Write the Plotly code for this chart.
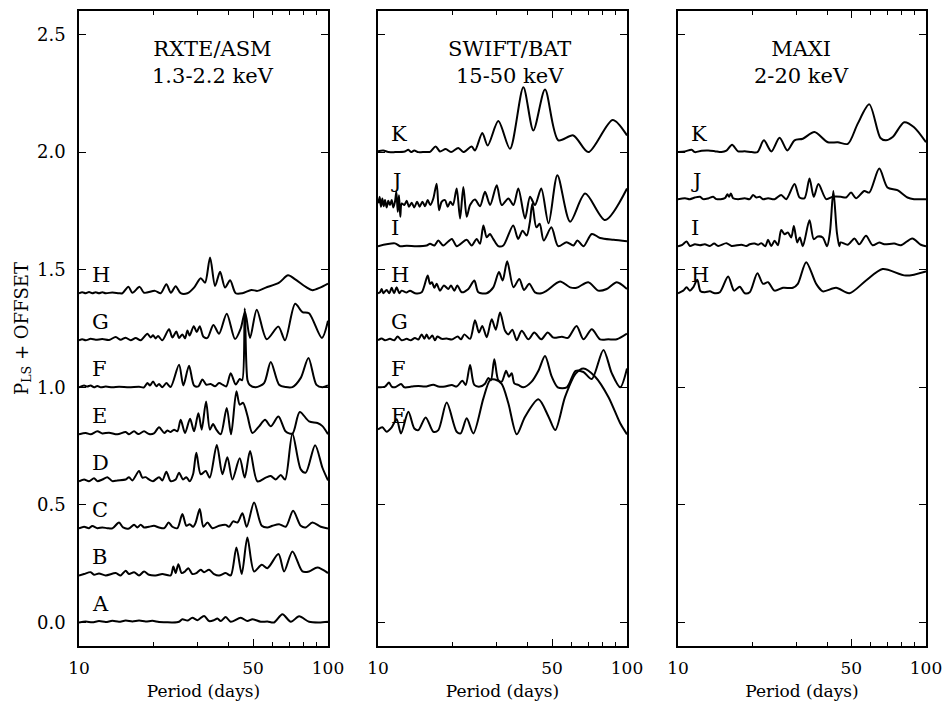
import plotly.graph_objects as go

# ---------------- data: (period [days], Lomb-Scargle power) ----------------
# RXTE/ASM 1.3-2.2 keV
ASM_A = [(10.0,0.0),(10.64,0.004),(11.31,0.001),(12.03,0.006),(12.8,0.002),(13.61,0.007),(14.48,0.003),(15.4,0.008),(16.38,0.004),(17.42,0.008),(18.53,0.004),(19.71,0.007),(20.96,0.002),(22.29,0.001),(23.71,0.0),(25.22,0.003),(26.01,0.014),(27.25,0.008),(28.53,0.02),(29.88,0.01),(31.8,0.028),(33.3,0.006),(34.86,0.01),(35.97,0.017),(37.09,0.006),(38.84,0.023),(40.67,0.003),(44.62,0.02),(47.45,0.006),(49.71,0.014),(53.7,0.003),(57.1,0.004),(60.74,0.0),(65.6,0.035),(70.9,0.003),(76.55,0.026),(83.97,0.003),(92.11,0.0),(100.0,0.003)]
ASM_B = [(10.0,0.0),(10.48,0.006),(11.14,0.014),(11.49,0.003),(12.03,0.008),(12.8,0.0),(14.04,0.01),(14.7,0.0),(15.4,0.02),(15.88,0.006),(16.64,0.014),(17.42,0.0),(18.25,0.017),(19.11,0.003),(20.33,0.0),(21.61,0.006),(23.34,0.0),(23.93,0.038),(24.45,0.01),(25.06,0.048),(25.85,0.01),(26.66,0.017),(27.5,0.031),(28.53,0.006),(29.6,0.01),(30.82,0.024),(31.79,0.014),(33.29,0.024),(34.86,0.006),(36.52,0.0),(38.84,0.01),(40.67,0.0),(42.88,0.119),(45.04,0.006),(47.45,0.161),(50.48,0.017),(54.19,0.045),(57.1,0.031),(63.23,0.091),(66.64,0.017),(71.97,0.102),(78.95,0.017),(83.97,0.017),(90.69,0.034),(100.0,0.01)]
ASM_C = [(10.0,0.0),(10.48,0.007),(10.97,0.001),(11.31,0.01),(11.85,0.001),(12.41,0.004),(13.0,0.001),(13.61,0.0),(14.48,0.025),(15.03,0.004),(15.88,0.0),(16.64,0.016),(17.15,0.004),(17.69,0.016),(18.25,0.004),(19.11,0.007),(20.0,0.011),(20.96,0.004),(22.0,0.001),(22.91,0.025),(23.71,0.007),(24.84,0.001),(26.01,0.061),(27.0,0.011),(27.83,0.018),(28.71,0.007),(29.42,0.025),(30.54,0.082),(31.6,0.007),(32.8,0.025),(34.33,0.001),(36.52,0.011),(38.84,0.015),(40.05,0.007),(41.57,0.03),(43.27,0.025),(45.32,0.064),(47.16,0.007),(50.48,0.110),(54.19,0.011),(57.1,0.004),(59.81,0.011),(63.62,0.018),(67.66,0.007),(72.42,0.075),(77.74,0.011),(81.42,0.004),(86.6,0.025),(93.54,0.007),(100.0,0.0)]
ASM_D = [(10.0,0.0),(10.48,0.008),(10.97,0.001),(11.49,0.013),(11.85,0.001),(12.41,0.008),(13.0,0.018),(13.61,0.001),(14.26,0.004),(15.4,0.008),(15.88,0.018),(16.38,0.004),(17.42,0.044),(17.97,0.016),(18.53,0.018),(19.11,0.008),(19.83,0.001),(20.96,0.018),(21.61,0.004),(22.43,0.041),(23.34,0.001),(24.45,0.008),(25.22,0.037),(26.17,0.008),(26.99,0.018),(27.83,0.0),(28.71,0.030),(29.6,0.122),(30.82,0.030),(32.28,0.044),(33.5,0.016),(35.76,0.155),(37.66,0.030),(39.44,0.103),(41.31,0.008),(44.2,0.098),(46.3,0.016),(48.64,0.129),(52.06,0.0),(56.23,0.016),(58.9,0.023),(61.68,0.008),(64.6,0.027),(67.24,0.008),(71.97,0.203),(77.74,0.051),(81.42,0.037),(88.77,0.154),(95.0,0.058),(100.0,0.004)]
ASM_E = [(10.0,0.0),(10.64,0.006),(11.14,0.0),(11.85,0.013),(12.41,0.004),(13.2,0.007),(14.26,0.0),(15.4,0.01),(15.88,0.0),(16.64,0.013),(17.31,0.001),(18.25,0.013),(19.11,0.001),(20.0,0.004),(20.96,0.030),(22.0,0.006),(22.63,0.016),(23.34,0.01),(24.08,0.02),(24.84,0.013),(25.61,0.062),(26.66,0.006),(27.93,0.066),(28.97,0.013),(30.16,0.09),(31.1,0.02),(32.38,0.14),(33.55,0.02),(34.54,0.044),(35.6,0.02),(37.09,0.0),(39.2,0.112),(40.8,0.0),(42.88,0.183),(44.2,0.126),(45.6,0.134),(47.45,0.08),(49.71,0.006),(52.87,0.034),(55.88,0.062),(58.9,0.034),(63.23,0.076),(67.66,0.012),(71.97,0.003),(77.0,0.095),(83.97,0.055),(90.7,0.048),(95.0,0.035),(100.0,0.0)]
ASM_F = [(10.0,0.0),(10.48,0.008),(10.8,0.003),(11.14,0.008),(11.49,0.0),(11.85,0.006),(12.22,0.0),(12.8,0.003),(13.61,0.0),(14.48,0.002),(15.88,0.0),(17.42,0.002),(18.25,0.0),(18.82,0.018),(19.29,0.008),(19.83,0.025),(20.45,0.004),(20.96,0.014),(21.61,0.0),(22.43,0.018),(23.34,0.001),(25.22,0.096),(26.25,0.008),(27.66,0.092),(28.97,0.008),(30.16,0.004),(31.3,0.033),(32.48,0.011),(33.8,0.014),(35.2,0.004),(36.52,0.018),(37.88,0.01),(39.04,0.004),(40.67,0.060),(42.6,0.012),(44.2,0.035),(45.2,0.03),(46.3,0.335),(47.5,0.03),(48.5,0.01),(51.27,0.0),(55.38,0.018),(58.9,0.108),(63.62,0.011),(67.66,0.001),(71.97,0.001),(77.74,0.04),(83.46,0.125),(89.9,0.01),(95.0,0.0),(100.0,0.008)]
ASM_G = [(10.0,0.0),(10.31,0.004),(10.64,0.0),(11.14,0.006),(11.67,0.002),(12.41,0.005),(13.2,0.001),(14.04,0.014),(14.7,0.002),(15.4,0.011),(16.13,0.0),(16.9,0.010),(17.69,0.0),(18.82,0.028),(19.4,0.012),(19.83,0.021),(20.3,0.008),(20.77,0.018),(21.61,0.0),(22.99,0.047),(23.71,0.012),(24.6,0.037),(25.22,0.010),(26.01,0.025),(26.66,0.008),(27.25,0.042),(27.8,0.02),(28.9,0.06),(29.7,0.035),(30.54,0.06),(31.6,0.015),(32.8,0.01),(34.65,0.065),(36.52,0.028),(39.2,0.113),(42.34,0.005),(44.62,0.05),(46.44,0.12),(48.64,0.01),(51.75,0.13),(56.75,0.004),(63.2,0.058),(67.2,0.0),(73.8,0.155),(78.9,0.12),(83.9,0.115),(94.5,0.01),(100.0,0.083)]
ASM_H = [(10.0,0.0),(10.31,0.004),(10.64,0.0),(10.97,0.005),(11.31,0.0),(11.67,0.004),(12.03,0.0),(12.41,0.004),(12.8,0.0),(13.61,0.003),(14.48,0.0),(14.93,0.0),(15.79,0.028),(16.38,0.002),(17.53,0.027),(18.25,0.002),(20.2,0.010),(21.29,0.0),(22.43,0.038),(23.4,0.002),(24.45,0.030),(25.61,0.0),(27.25,0.0),(28.97,0.024),(30.82,0.064),(32.08,0.045),(33.6,0.152),(35.2,0.031),(36.86,0.091),(38.6,0.024),(40.44,0.055),(42.6,0.0),(45.3,0.0),(49.25,0.014),(52.06,0.010),(56.23,0.024),(63.62,0.045),(69.1,0.076),(73.6,0.06),(81.42,0.027),(86.6,0.013),(92.9,0.024),(100.0,0.041)]

# SWIFT/BAT 15-50 keV
BAT_E = [(10.0,0.021),(10.41,0.03),(10.83,0.011),(11.35,0.03),(11.88,0.064),(12.37,0.004),(13.24,0.096),(13.99,0.025),(14.52,0.018),(15.54,0.072),(16.68,0.011),(17.47,0.018),(18.87,0.135),(20.7,0.011),(21.48,0.004),(22.71,0.068),(24.15,0.004),(26.5,0.153),(28.2,0.231),(29.5,0.233),(31.38,0.215),(33.38,0.132),(36.06,0.0),(38.96,0.075),(44.07,0.149),(48.4,0.075),(51.5,0.018),(56.4,0.159),(62.2,0.258),(66.85,0.28),(74.5,0.245),(84.2,0.159),(93.9,0.047),(100.0,0.0)]
BAT_F = [(10.0,0.0),(10.67,0.003),(11.07,0.02),(11.35,0.003),(11.7,0.0),(12.37,0.014),(12.76,0.0),(13.65,0.003),(14.52,0.006),(15.45,0.003),(16.68,0.011),(17.47,0.003),(18.59,0.003),(19.79,0.01),(20.7,0.003),(21.82,0.028),(22.5,0.01),(23.43,0.095),(24.37,0.01),(25.68,0.003),(26.9,0.015),(27.74,0.04),(28.4,0.03),(29.32,0.119),(30.42,0.03),(31.38,0.024),(32.7,0.07),(33.55,0.045),(34.44,0.06),(35.27,0.017),(36.6,0.01),(38.35,0.0),(41.43,0.024),(44.07,0.07),(46.86,0.133),(49.86,0.045),(52.7,0.0),(57.3,0.0),(62.2,0.07),(66.85,0.065),(72.2,0.035),(80.4,0.159),(86.85,0.06),(93.9,0.0),(100.0,0.08)]
BAT_G = [(10.0,0.0),(10.35,0.007),(10.67,0.0),(11.17,0.006),(11.63,0.0),(11.99,0.016),(12.45,0.0),(13.04,0.006),(13.53,0.0),(14.07,0.01),(14.52,0.003),(14.98,0.025),(15.35,0.006),(15.68,0.024),(16.03,0.006),(16.52,0.02),(16.94,0.0),(17.31,0.016),(18.02,0.006),(18.87,0.007),(19.79,0.003),(20.9,0.016),(21.55,0.004),(22.22,0.025),(23.43,0.006),(24.52,0.085),(25.44,0.033),(26.24,0.061),(27.33,0.013),(28.62,0.089),(29.7,0.045),(30.92,0.118),(32.38,0.04),(33.38,0.025),(34.65,0.045),(36.06,0.0),(37.77,0.04),(40.2,0.004),(42.42,0.033),(45.25,0.004),(48.03,0.033),(50.66,0.011),(54.8,0.015),(57.9,0.01),(62.74,0.061),(66.85,0.004),(72.2,0.047),(77.96,0.004),(84.2,0.004),(91.0,0.004),(100.0,0.028)]
BAT_H = [(10.0,0.0),(10.19,0.004),(10.35,0.018),(10.5,0.0),(10.83,0.014),(11.1,0.0),(11.35,0.023),(11.6,0.0),(11.88,0.025),(12.18,0.0),(12.45,0.011),(13.04,0.003),(13.44,0.011),(14.07,0.0),(14.98,0.004),(15.83,0.075),(16.18,0.04),(16.47,0.047),(16.84,0.023),(17.2,0.04),(17.74,0.011),(18.39,0.033),(19.16,0.018),(19.64,0.033),(20.26,0.011),(20.83,0.033),(21.68,0.004),(23.07,0.018),(24.37,0.054),(25.29,0.004),(27.33,0.0),(29.05,0.025),(30.6,0.09),(31.67,0.054),(33.03,0.136),(35.0,0.025),(36.93,0.061),(38.58,0.014),(40.51,0.04),(42.7,0.004),(45.34,0.0),(47.62,0.011),(53.83,0.05),(59.06,0.025),(62.74,0.023),(69.9,0.047),(76.7,0.011),(82.9,0.018),(91.0,0.047),(100.0,0.018)]
BAT_I = [(10.0,0.0),(11.7,0.012),(12.26,0.0),(13.04,0.002),(14.3,0.0),(15.68,0.003),(16.18,0.01),(16.84,0.003),(17.47,0.024),(18.29,0.003),(19.79,0.031),(20.7,0.0),(22.71,0.027),(23.79,0.003),(24.9,0.031),(25.68,0.01),(26.5,0.088),(27.33,0.038),(28.15,0.052),(29.05,0.03),(30.42,0.0),(31.87,0.003),(34.9,0.088),(36.55,0.031),(38.07,0.066),(39.53,0.045),(40.7,0.1),(41.66,0.18),(43.24,0.08),(44.6,0.095),(46.3,0.024),(49.7,0.08),(52.9,0.0),(57.2,0.017),(60.9,0.003),(63.2,0.024),(66.9,0.0),(72.2,0.052),(78.0,0.035),(88.3,0.027),(100.0,0.021)]
BAT_J = [(10.03,-0.018),(10.15,0.01),(10.28,-0.032),(10.41,0.003),(10.54,-0.03),(10.67,-0.004),(10.83,-0.035),(11.0,-0.007),(11.17,-0.025),(11.35,-0.004),(11.52,-0.035),(11.7,-0.011),(11.85,0.031),(12.0,-0.054),(12.14,0.017),(12.29,-0.075),(12.45,-0.018),(12.76,-0.025),(13.04,-0.007),(13.32,-0.032),(13.65,-0.015),(13.99,-0.035),(14.35,-0.011),(14.7,-0.032),(15.08,-0.011),(15.45,-0.03),(15.83,-0.004),(16.23,-0.025),(16.68,0.003),(17.2,0.066),(17.58,-0.047),(18.02,-0.011),(18.59,-0.004),(19.05,-0.032),(19.53,-0.011),(20.0,-0.025),(20.7,0.045),(21.36,-0.082),(22.02,0.052),(22.72,-0.075),(23.43,-0.025),(24.52,-0.001),(25.7,-0.03),(26.9,0.031),(28.2,-0.025),(29.98,0.059),(31.38,-0.025),(33.38,0.003),(35.0,-0.025),(36.6,0.045),(38.96,-0.082),(40.8,0.01),(42.7,-0.025),(45.25,0.045),(48.4,-0.103),(52.55,0.102),(59.1,-0.096),(67.9,0.024),(81.7,-0.089),(100.0,0.045)]
BAT_K = [(10.0,0.004),(10.5,0.007),(11.0,0.0),(11.7,0.0),(12.83,0.003),(13.24,0.01),(13.57,0.0),(13.99,0.007),(14.52,0.0),(15.44,0.001),(16.18,0.001),(17.04,0.024),(17.74,0.003),(18.7,0.013),(19.65,0.0),(21.02,0.018),(22.01,0.0),(23.78,0.024),(24.52,0.007),(26.24,0.081),(27.57,0.028),(30.42,0.132),(33.89,0.014),(38.35,0.276),(42.06,0.092),(46.86,0.266),(53.0,0.05),(60.88,0.071),(69.94,0.0),(87.58,0.137),(100.0,0.071)]

# MAXI 2-20 keV
MAXI_H = [(10.0,0.0),(10.5,0.011),(10.83,0.025),(11.17,0.011),(11.52,0.025),(11.96,0.057),(12.33,0.008),(12.83,0.004),(13.44,0.008),(14.07,0.0),(14.75,0.004),(15.93,0.071),(16.84,0.011),(17.74,0.028),(18.59,0.0),(19.46,0.004),(20.9,0.085),(22.02,0.04),(23.07,0.047),(24.52,0.011),(26.5,0.023),(29.05,0.023),(30.42,0.04),(32.88,0.132),(36.06,0.04),(38.35,0.008),(43.4,0.023),(49.1,0.0),(57.3,0.054),(66.85,0.103),(82.9,0.075),(100.0,0.093)]
MAXI_I = [(10.0,0.0),(10.41,0.006),(10.83,0.02),(11.17,0.001),(11.7,0.008),(12.26,0.004),(12.83,0.008),(13.44,0.001),(13.99,0.011),(14.52,0.001),(15.68,0.013),(16.43,0.001),(18.02,0.006),(18.87,0.001),(19.46,0.008),(20.38,0.011),(21.02,0.006),(21.68,0.013),(22.5,0.0),(23.07,0.027),(23.79,0.001),(24.52,0.023),(25.29,0.004),(26.07,0.069),(26.9,0.051),(27.74,0.058),(28.62,0.037),(29.32,0.086),(30.25,0.016),(31.0,0.037),(31.87,0.0),(33.9,0.110),(35.27,0.03),(36.6,0.041),(38.35,0.037),(39.9,0.0),(41.0,0.06),(42.31,0.235),(43.7,0.06),(44.72,0.0),(45.26,0.016),(48.4,0.006),(51.5,0.033),(53.8,0.008),(57.3,0.044),(60.9,0.004),(64.8,0.016),(67.9,0.008),(74.5,0.011),(79.2,0.004),(88.1,0.033),(95.3,0.006),(100.0,0.0)]
MAXI_J = [(10.0,0.0),(10.67,0.004),(11.17,0.0),(11.7,0.007),(12.26,0.01),(12.64,0.0),(13.24,0.003),(13.86,0.01),(14.3,0.0),(15.45,0.004),(15.83,0.021),(16.07,0.01),(16.34,0.024),(16.68,0.004),(17.47,0.0),(18.59,0.004),(19.46,0.0),(20.07,0.018),(20.7,0.007),(21.36,0.01),(22.02,0.0),(23.07,0.004),(24.52,0.0),(26.07,0.018),(27.33,0.0),(29.5,0.064),(30.92,0.007),(32.38,0.004),(33.9,0.088),(35.27,0.01),(36.84,0.064),(39.6,0.0),(42.06,0.01),(45.34,0.01),(47.62,0.007),(49.86,0.028),(52.2,0.004),(56.4,0.035),(59.06,0.028),(64.8,0.13),(69.9,0.05),(76.7,0.038),(84.2,0.007),(89.5,0.0),(100.0,0.0)]
MAXI_K = [(10.0,0.0),(10.67,0.003),(11.35,0.01),(11.7,0.0),(12.45,0.006),(13.24,0.007),(14.07,0.004),(14.97,0.0),(15.68,0.006),(16.52,0.031),(17.47,0.003),(18.59,0.004),(19.79,0.0),(20.9,0.0),(22.2,0.05),(23.79,0.003),(25.68,0.061),(27.6,0.007),(29.5,0.05),(31.87,0.057),(35.5,0.085),(40.2,0.042),(44.07,0.042),(48.4,0.035),(53.0,0.12),(59.06,0.203),(65.5,0.06),(68.9,0.05),(73.4,0.064),(81.7,0.127),(89.5,0.106),(100.0,0.042)]

LABELS_ASM = ["A", "B", "C", "D", "E", "F", "G", "H"]
OFFSETS_ASM = [0.0, 0.2, 0.4, 0.6, 0.8, 1.0, 1.2, 1.4]
LABELS_BAT = ["E", "F", "G", "H", "I", "J", "K"]
OFFSETS_BAT = [0.8, 1.0, 1.2, 1.4, 1.6, 1.8, 2.0]
LABELS_MAXI = ["H", "I", "J", "K"]
OFFSETS_MAXI = [1.4, 1.6, 1.8, 2.0]

PANEL_TITLES = ["RXTE/ASM<br>1.3-2.2 keV", "SWIFT/BAT<br>15-50 keV", "MAXI<br>2-20 keV"]
X_MAJOR = [10, 50, 100]
X_MINOR = [20, 30, 40, 60, 70, 80, 90]
Y_TICKS = [0.0, 0.5, 1.0, 1.5, 2.0, 2.5]

panels = [
    (LABELS_ASM, OFFSETS_ASM, [ASM_A, ASM_B, ASM_C, ASM_D, ASM_E, ASM_F, ASM_G, ASM_H]),
    (LABELS_BAT, OFFSETS_BAT, [BAT_E, BAT_F, BAT_G, BAT_H, BAT_I, BAT_J, BAT_K]),
    (LABELS_MAXI, OFFSETS_MAXI, [MAXI_H, MAXI_I, MAXI_J, MAXI_K]),
]

# ---------------- figure ----------------
W, H = 943, 702
FONT = "DejaVu Serif"
domains_px = [(79, 328), (378, 627), (678, 926)]
y_dom = [1 - 646 / H, 1 - 11 / H]

fig = go.Figure()
title_x = [1.538, 1.53, 1.496]

for i, (labels, offsets, curves) in enumerate(panels):
    n = "" if i == 0 else str(i + 1)
    xref, yref = "x" + n, "y" + n
    for lab, off, pts in zip(labels, offsets, curves):
        fig.add_trace(go.Scatter(
            x=[p for p, _ in pts], y=[v + off for _, v in pts],
            mode="lines", xaxis=xref, yaxis=yref, showlegend=False, hoverinfo="skip",
            line=dict(color="black", width=2, shape="spline", smoothing=0.8)))
        fig.add_annotation(x=1.045, y=off + 0.078, xref=xref, yref=yref, text=lab,
                           showarrow=False, xanchor="left", yanchor="middle",
                           font=dict(family=FONT, size=21, color="black"))
    fig.add_annotation(x=title_x[i], y=2.38, xref=xref, yref=yref, text=PANEL_TITLES[i],
                       showarrow=False, xanchor="center", yanchor="middle", align="center",
                       font=dict(family=FONT, size=21, color="black"))

    d0, d1 = domains_px[i]
    fig.layout["xaxis" + n] = dict(
        domain=[d0 / W, d1 / W], anchor=yref, type="log", range=[1, 2],
        showline=True, linecolor="black", linewidth=1.6, mirror="ticks",
        ticks="inside", ticklen=7, tickwidth=1, tickcolor="black",
        tickmode="array", tickvals=X_MAJOR, ticktext=[str(v) for v in X_MAJOR],
        minor=dict(tickmode="array", tickvals=X_MINOR, ticks="inside", ticklen=4, tickcolor="black", showgrid=False),
        showgrid=False, zeroline=False, automargin=False, ticklabelstandoff=6,
        tickfont=dict(family=FONT, size=17, color="black"),
        title=dict(text="Period (days)", font=dict(family=FONT, size=17, color="black"), standoff=8))
    yax = dict(
        domain=y_dom, anchor=xref, range=[-0.1, 2.6],
        showline=True, linecolor="black", linewidth=1.6, mirror="ticks",
        ticks="inside", ticklen=7, tickwidth=1, tickcolor="black",
        tickmode="array", tickvals=Y_TICKS, ticktext=["%.1f" % v for v in Y_TICKS],
        showticklabels=(i == 0), showgrid=False, zeroline=False, automargin=False,
        ticklabelstandoff=8, tickfont=dict(family=FONT, size=18, color="black"))
    if i == 0:
        yax["title"] = dict(text="P<sub>LS</sub> + OFFSET",
                            font=dict(family=FONT, size=18, color="black"), standoff=4)
    fig.layout["yaxis" + n] = yax

fig.update_layout(width=W, height=H, margin=dict(l=0, r=0, t=0, b=0),
                  paper_bgcolor="white", plot_bgcolor="white")
fig.write_html("out.html")
